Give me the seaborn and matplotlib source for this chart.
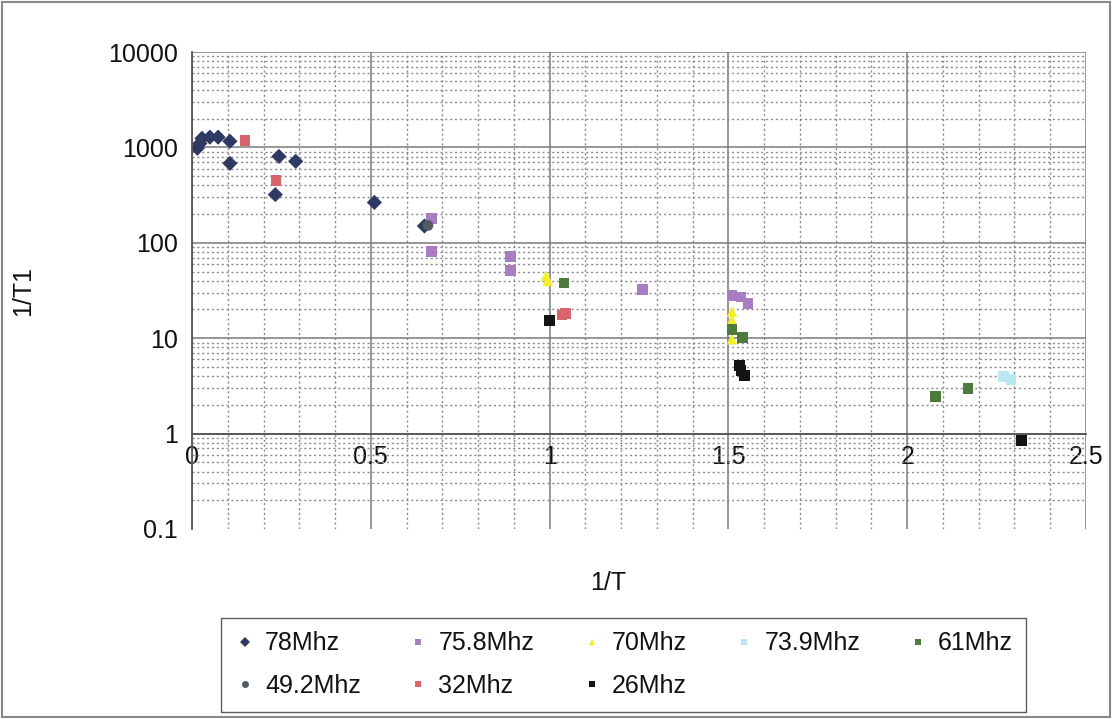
import matplotlib
matplotlib.use("Agg")
import matplotlib.pyplot as plt
import matplotlib.ticker as mticker
from matplotlib.patches import Rectangle
import seaborn as sns
import pandas as pd

# ---- data ----
x_78 = [0.015, 0.022, 0.028, 0.05, 0.073, 0.106, 0.106, 0.233, 0.243, 0.29, 0.51, 0.65]
y_78 = [980, 1100, 1245, 1280, 1280, 1160, 680, 320, 805, 715, 265, 150]

x_758 = [0.67, 0.67, 0.89, 0.89, 1.26, 1.51, 1.535, 1.555]
y_758 = [180, 81, 72, 51, 32.5, 28, 27, 23]

x_70 = [0.99, 0.995, 1.51, 1.51, 1.51]
y_70 = [45, 40, 19, 15.5, 9.8]

x_739 = [2.27, 2.29]
y_739 = [3.95, 3.7]

x_61 = [1.04, 1.51, 1.54, 2.08, 2.17]
y_61 = [38, 12.3, 10.2, 2.44, 2.97]

x_492 = [0.66]
y_492 = [152]

x_32 = [0.148, 0.235, 1.035, 1.045]
y_32 = [1190, 452, 17.5, 18.2]

x_26 = [1.0, 1.53, 1.535, 1.545, 2.32]
y_26 = [15.3, 5.2, 4.6, 4.1, 0.845]

series_names = ["78Mhz", "75.8Mhz", "70Mhz", "73.9Mhz", "61Mhz", "49.2Mhz", "32Mhz", "26Mhz"]
series_x = [x_78, x_758, x_70, x_739, x_61, x_492, x_32, x_26]
series_y = [y_78, y_758, y_70, y_739, y_61, y_492, y_32, y_26]

x_ticks = [0, 0.5, 1, 1.5, 2, 2.5]
x_tick_labels = ["0", "0.5", "1", "1.5", "2", "2.5"]
y_ticks = [0.1, 1, 10, 100, 1000, 10000]
y_tick_labels = ["0.1", "1", "10", "100", "1000", "10000"]

# ---- styling ----
colors = {"78Mhz": "#2F3A63", "75.8Mhz": "#A97DC2", "70Mhz": "#F3EE2C", "73.9Mhz": "#BBE7F0",
          "61Mhz": "#4D7B3E", "49.2Mhz": "#525A62", "32Mhz": "#D9646C", "26Mhz": "#141414"}
markers = {"78Mhz": "D", "75.8Mhz": "s", "70Mhz": "^", "73.9Mhz": "s",
           "61Mhz": "s", "49.2Mhz": "o", "32Mhz": "s", "26Mhz": "s"}

rows = []
for name, xs, ys in zip(series_names, series_x, series_y):
    for a, b in zip(xs, ys):
        rows.append({"x": a, "y": b, "series": name})
df = pd.DataFrame(rows)

sns.set_style("white")
plt.rcParams["font.family"] = ["Liberation Sans", "DejaVu Sans"]
plt.rcParams["text.color"] = "#111111"

fig = plt.figure(figsize=(11.12, 7.19), dpi=100)
ax = fig.add_axes([192 / 1112, 1 - 529 / 719, (1086 - 192) / 1112, (529 - 52) / 719])

sns.scatterplot(data=df, x="x", y="y", hue="series", style="series",
                hue_order=series_names, style_order=series_names,
                palette=colors, markers=markers, s=60, linewidth=0, ax=ax, legend=True)

ax.set_yscale("log")
ax.set_xlim(0, 2.5)
ax.set_ylim(0.1, 10000)

# grid
ax.xaxis.set_major_locator(mticker.FixedLocator(x_ticks))
ax.xaxis.set_minor_locator(mticker.MultipleLocator(0.1))
ax.yaxis.set_major_locator(mticker.FixedLocator(y_ticks))
ax.yaxis.set_minor_locator(mticker.LogLocator(base=10, subs=range(2, 10)))
ax.yaxis.set_minor_formatter(mticker.NullFormatter())
ax.xaxis.set_major_formatter(mticker.FixedFormatter(x_tick_labels))
ax.yaxis.set_major_formatter(mticker.FixedFormatter(y_tick_labels))

ax.grid(which="major", color="#7a7a7a", linewidth=1.1, linestyle="-")
ax.grid(which="minor", color="#8a8a8a", linewidth=1.0, linestyle=(0, (1.5, 2)))
ax.set_axisbelow(True)
for gl, t in zip(ax.yaxis.get_gridlines(), y_ticks):
    if t == 0.1:
        gl.set_visible(False)

for s in ["top", "right"]:
    ax.spines[s].set_visible(False)
ax.spines["bottom"].set_position(("data", 1))
ax.spines["bottom"].set_color("#555555")
ax.spines["bottom"].set_linewidth(1.3)
ax.spines["left"].set_color("#555555")
ax.spines["left"].set_linewidth(1.3)

ax.tick_params(axis="y", which="major", direction="out", length=6, width=1, color="#555555",
               labelsize=18, pad=4, labelcolor="#111111")
ax.tick_params(axis="y", which="minor", direction="out", length=4, width=0.8, color="#555555")
ax.tick_params(axis="x", which="major", direction="out", length=0, labelsize=18, pad=8,
               labelcolor="#111111")
ax.tick_params(axis="x", which="minor", length=0)

ax.set_xlabel("1/T", fontsize=18, labelpad=0, color="#111111")
ax.xaxis.set_label_coords(0.465, -0.088)
ax.set_ylabel("1/T1", fontsize=18, color="#111111")
ax.yaxis.set_label_coords(-0.175, 0.5)

# legend
handles, labels = ax.get_legend_handles_labels()
hmap = dict(zip(labels, handles))
ax.get_legend().remove()
order = ["78Mhz", "49.2Mhz", "75.8Mhz", "32Mhz", "70Mhz", "26Mhz", "73.9Mhz", "61Mhz"]
for h in hmap.values():
    try:
        h.set_markersize(5)
    except Exception:
        pass
leg = fig.legend([hmap[k] for k in order], order, ncol=5, loc="center",
                 bbox_to_anchor=(0.561, 0.0755), fontsize=18, frameon=True,
                 fancybox=False, edgecolor="#333333", handlelength=0.8,
                 handletextpad=0.4, columnspacing=1.9, labelspacing=0.75,
                 borderpad=0.55)
leg.get_frame().set_linewidth(1.0)

# outer chart border
fig.patches.append(Rectangle((0.002, 0.003), 0.996, 0.994, transform=fig.transFigure,
                             fill=False, edgecolor="#888888", linewidth=1.5))

fig.savefig("out.png", dpi=100)
